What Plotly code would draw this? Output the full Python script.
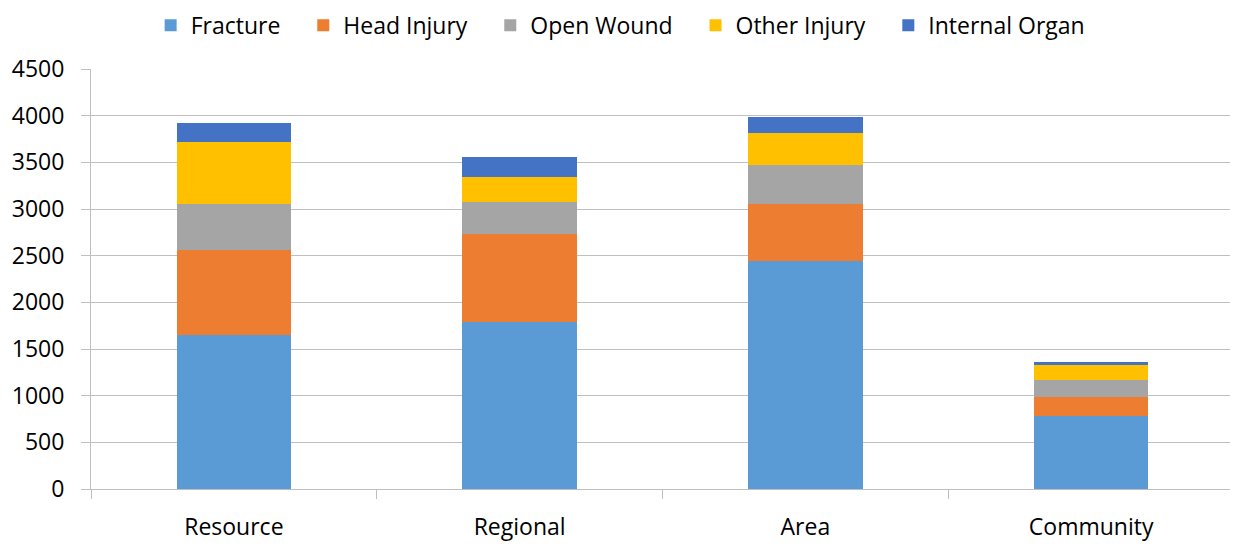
import plotly.graph_objects as go

categories = ["Resource", "Regional", "Area", "Community"]

fracture = [1645, 1790, 2445, 785]
head_injury = [920, 940, 610, 200]
open_wound = [485, 340, 420, 182]
other_injury = [670, 272, 343, 164]
internal_organ = [205, 210, 168, 30]

series = [
    ("Fracture", fracture, "#5B9BD5"),
    ("Head Injury", head_injury, "#ED7D31"),
    ("Open Wound", open_wound, "#A5A5A5"),
    ("Other Injury", other_injury, "#FFC000"),
    ("Internal Organ", internal_organ, "#4472C4"),
]

PAD = "\u00a0" * 3  # extra room between legend entries

fig = go.Figure()
for name, vals, color in series:
    fig.add_trace(go.Bar(
        x=categories, y=vals, name=name + PAD,
        marker=dict(color=color, line=dict(width=0)),
        hovertemplate=name + ": %{y}<extra></extra>",
    ))

FONT = "Open Sans"

# page body has an 8px margin, so the figure is offset by 8px
fig.update_layout(
    barmode="stack",
    bargap=0.6,
    width=1230, height=538,
    margin=dict(l=81, r=4, t=61, b=55),
    paper_bgcolor="white",
    plot_bgcolor="white",
    font=dict(family=FONT, size=23, color="#000000"),
    legend=dict(
        orientation="h",
        xref="container", x=0.505, xanchor="center",
        yref="container", y=0.968, yanchor="middle",
        font=dict(size=23),
        traceorder="normal",
        itemwidth=30,
    ),
    xaxis=dict(
        showline=True, linecolor="#BFBFBF", linewidth=1,
        ticks="outside", tickson="boundaries", ticklen=9, tickcolor="#BFBFBF",
        ticklabelstandoff=17,
        showgrid=False,
    ),
    yaxis=dict(
        range=[0, 4500], dtick=500,
        showline=True, linecolor="#BFBFBF", linewidth=1,
        ticks="outside", ticklen=9, tickcolor="#BFBFBF",
        ticklabelstandoff=12,
        showgrid=True, gridcolor="#BFBFBF", gridwidth=1,
        zeroline=False,
    ),
)

fig.write_html("out.html")
